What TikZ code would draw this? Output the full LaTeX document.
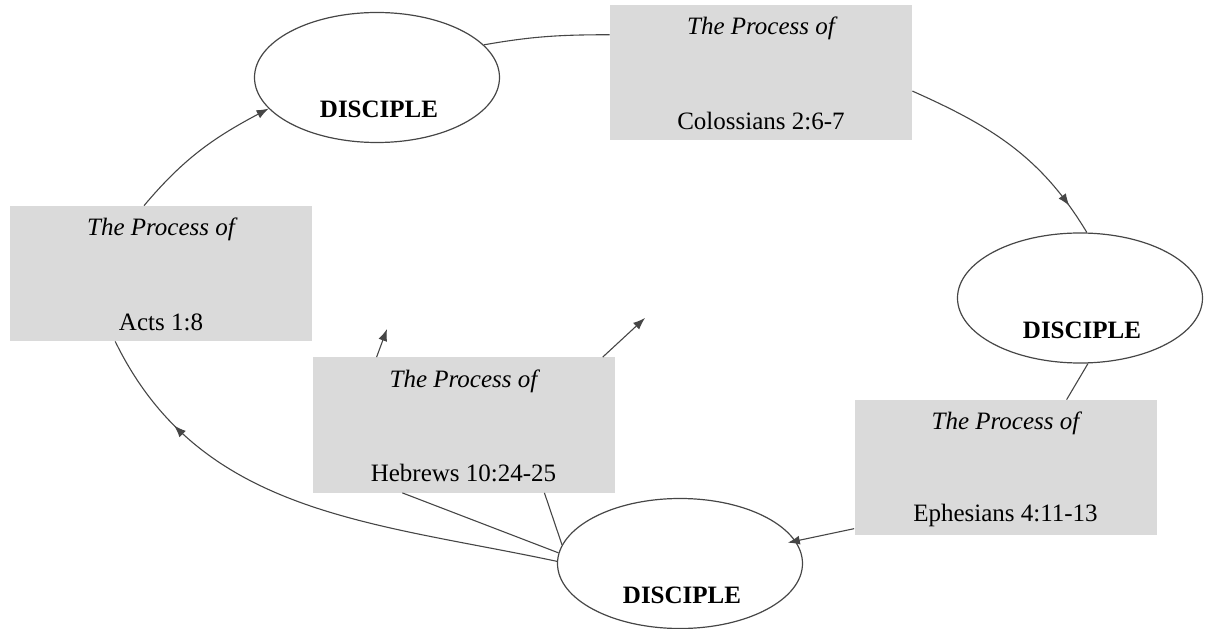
\documentclass[tikz,border=0pt]{standalone}
\usepackage{fontspec}
\setmainfont{Liberation Serif}
\usetikzlibrary{shapes.geometric, arrows.meta, decorations.markings}
\definecolor{boxfill}{RGB}{218, 218, 218}
\definecolor{edge}{RGB}{70, 70, 70}
\newcommand{\procsize}{\fontsize{12.5}{15}\selectfont}

\tikzset{
  disciple/.style={ellipse, draw=edge, line width=0.6pt, minimum width=122.5pt, minimum height=65pt, inner sep=0pt},
  process/.style={rectangle, fill=boxfill, minimum width=151pt, minimum height=67.5pt, inner sep=0pt},
  link/.style={draw=edge, line width=0.55pt},
  midarrow/.style={postaction={decorate}, decoration={markings, mark=at position #1 with {\arrow{>}}}}
}

\begin{document}
\begin{tikzpicture}[x=0.5pt, y=0.5pt, >={Latex[length=6pt, width=4.5pt]}, font=\procsize]
  \useasboundingbox (0, 0) rectangle (1207, 628);

  % the three disciples
  \node[disciple] (tl) at (377, 550.5) {};
  \node[disciple] (rt) at (1080, 330) {};
  \node[disciple] (bt) at (680, 64.5) {};
  \foreach \d in {tl, rt, bt} {
    \node[font=\procsize\bfseries] (\d-name) at ([yshift=-16pt, xshift=1pt]\d.center) {DISCIPLE};
  }

  % the four processes
  \foreach \p/\px/\py/\verse in {col/761/555.5/Colossians 2:6-7, eph/1005.5/160.5/Ephesians 4:11-13, act/161/354.5/Acts 1:8, heb/463.5/203/Hebrews 10:24-25} {
    \node[process] (\p) at (\px, \py) {};
    \node[font=\procsize\itshape] (\p-top) at ([yshift=-12pt]\p.north) {The Process of};
    \node (\p-ref) at ([yshift=9.75pt]\p.south) {\verse};
  }

  % the cycle
  \draw[link] (tl.17) to[out=10, in=180] (col.166);
  \draw[link, midarrow=0.86] (col.-7) to[out=-24, in=121] (rt.84);
  \draw[link] (rt.-83) -- (eph.48);
  \draw[link, ->, shorten >=-4pt] (eph.202) -- (bt.11);
  \draw[link, midarrow=0.8] (bt.179) to[out=168, in=-64] (act.236);
  \draw[link, ->] (act.104) to[out=50, in=208] (tl.196);

  % hebrews
  \draw[link] (bt.175) -- (heb.228);
  \draw[link] (bt.171) -- (heb.320);
  \coordinate (up1) at (387, 299);
  \coordinate (up2) at (645, 310);
  \draw[link, ->] (heb.142) -- (up1);
  \draw[link, ->] (heb.26) -- (up2);
\end{tikzpicture}
\end{document}
